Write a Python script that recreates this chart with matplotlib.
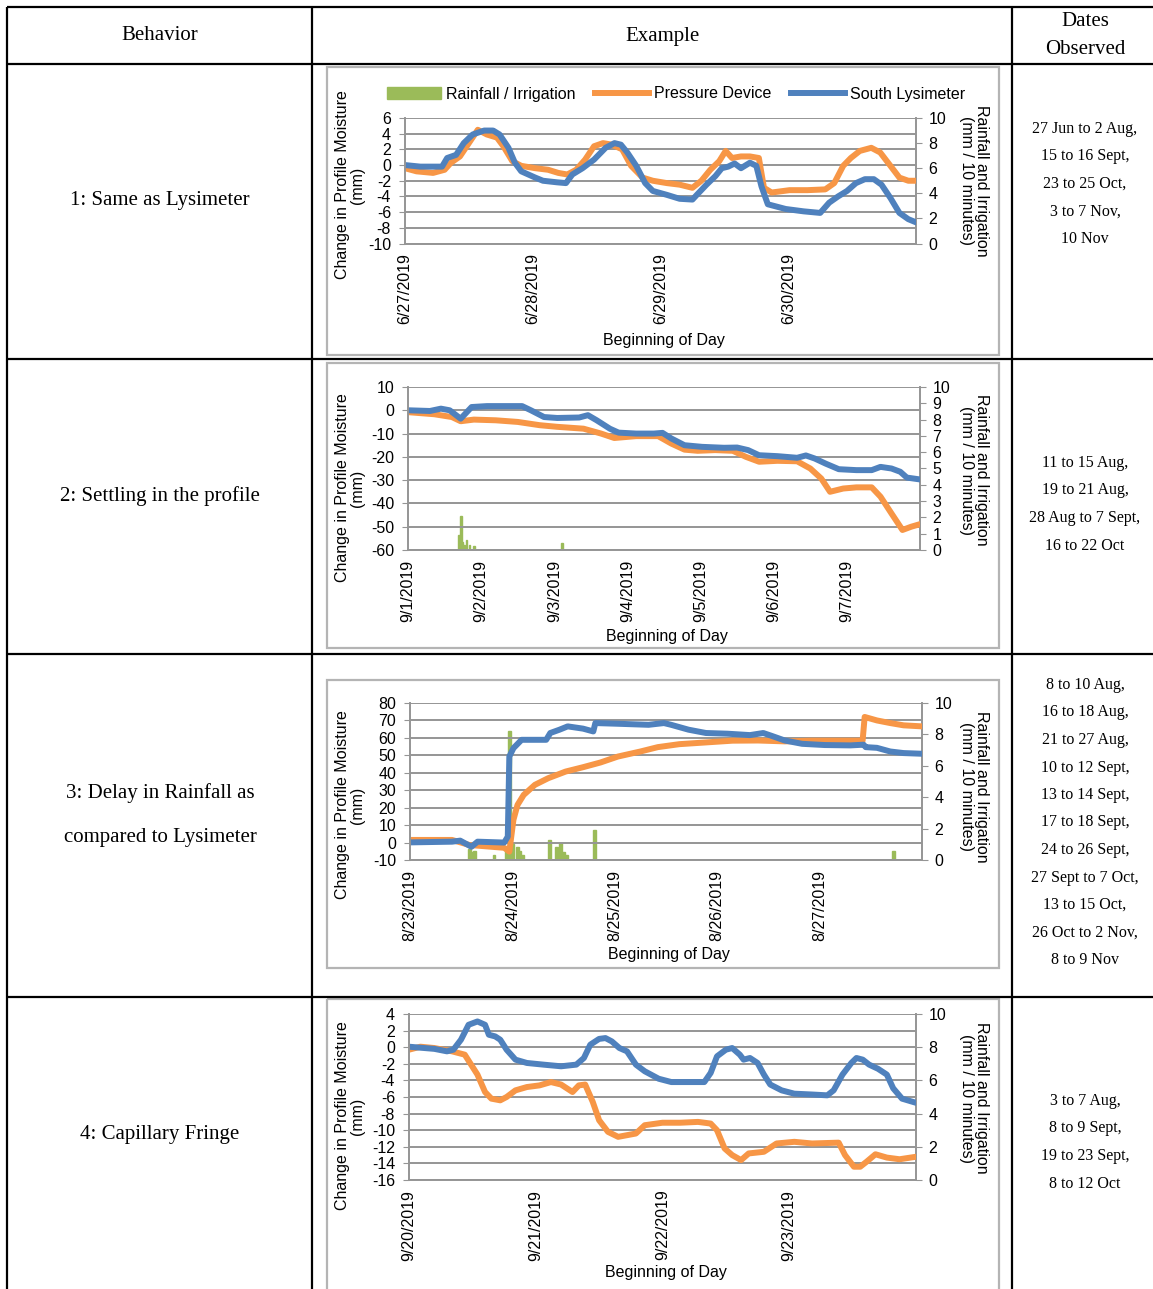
import numpy as np
import matplotlib.pyplot as plt
from matplotlib.patches import Rectangle, Patch
from matplotlib.lines import Line2D

plt.rcParams['font.family'] = ['Liberation Sans', 'DejaVu Sans']
plt.rcParams['axes.unicode_minus'] = False

W, H = 1153, 1289
GREEN = '#9BBB59'
ORANGE = '#F79646'
BLUE = '#4F81BD'
GRID = '#959595'
SERIF = ['Liberation Serif', 'DejaVu Serif']

# ---- table text ----
behaviors = ['1: Same as Lysimeter', '2: Settling in the profile',
             '3: Delay in Rainfall as\n\ncompared to Lysimeter', '4: Capillary Fringe']
dates_observed = [
    ['27 Jun to 2 Aug,', '15 to 16 Sept,', '23 to 25 Oct,', '3 to 7 Nov,', '10 Nov'],
    ['11 to 15 Aug,', '19 to 21 Aug,', '28 Aug to 7 Sept,', '16 to 22 Oct'],
    ['8 to 10 Aug,', '16 to 18 Aug,', '21 to 27 Aug,', '10 to 12 Sept,', '13 to 14 Sept,',
     '17 to 18 Sept,', '24 to 26 Sept,', '27 Sept to 7 Oct,', '13 to 15 Oct,',
     '26 Oct to 2 Nov,', '8 to 9 Nov'],
    ['3 to 7 Aug,', '8 to 9 Sept,', '19 to 23 Sept,', '8 to 12 Oct'],
]

# ---- chart 1: 6/27 - 6/30 ----
c1_dates = ['6/27/2019', '6/28/2019', '6/29/2019', '6/30/2019']
c1_day_pres = [0, 0.09, 0.22, 0.31, 0.36, 0.43, 0.50, 0.57, 0.64, 0.72, 0.77, 0.84, 0.91, 1.02, 1.12,
               1.20, 1.27, 1.34, 1.41, 1.48, 1.55, 1.62, 1.70, 1.77, 1.86, 1.94, 2.05, 2.15, 2.25, 2.32,
               2.39, 2.46, 2.51, 2.56, 2.63, 2.70, 2.77, 2.81, 2.87, 3.01, 3.15, 3.29, 3.36, 3.43, 3.49,
               3.56, 3.65, 3.72, 3.80, 3.87, 3.94, 4.0]
c1_pres = [-0.4, -0.8, -1.0, -0.6, 0.3, 1.1, 2.8, 4.5, 3.9, 3.5, 2.4, 0.5, -0.1, -0.4, -0.6,
           -1.0, -1.2, -0.6, 0.7, 2.4, 2.8, 2.6, 2.0, -0.1, -1.6, -2.0, -2.3, -2.5, -2.9, -2.0,
           -0.6, 0.5, 1.8, 0.9, 1.1, 1.1, 0.9, -2.9, -3.5, -3.2, -3.2, -3.1, -2.3, -0.1, 0.9,
           1.8, 2.2, 1.6, -0.1, -1.6, -2.0, -2.0]
c1_day_lys = [0, 0.12, 0.29, 0.33, 0.40, 0.46, 0.53, 0.62, 0.69, 0.74, 0.81, 0.86, 0.91, 1.02, 1.08,
              1.19, 1.26, 1.31, 1.39, 1.48, 1.57, 1.64, 1.69, 1.74, 1.81, 1.88, 1.94, 2.05, 2.15, 2.25,
              2.29, 2.36, 2.43, 2.48, 2.53, 2.58, 2.63, 2.70, 2.75, 2.79, 2.84, 2.98, 3.12, 3.25, 3.32,
              3.39, 3.46, 3.53, 3.60, 3.67, 3.73, 3.80, 3.87, 3.94, 4.0]
c1_lys = [0, -0.2, -0.2, 0.9, 1.3, 2.8, 3.9, 4.4, 4.4, 3.9, 2.2, 0.3, -0.8, -1.6, -2.0,
          -2.2, -2.3, -1.2, -0.4, 0.7, 2.2, 2.8, 2.6, 1.6, -0.1, -2.3, -3.3, -3.8, -4.3, -4.4,
          -3.7, -2.5, -1.4, -0.4, -0.2, 0.2, -0.4, 0.3, -0.1, -2.7, -5.0, -5.6, -5.9, -6.1, -4.8,
          -4.0, -3.3, -2.3, -1.8, -1.8, -2.5, -4.2, -6.1, -6.9, -7.3]
c1_day_rain = []
c1_rain = []

# ---- chart 2: 9/1 - 9/7 ----
c2_dates = ['9/1/2019', '9/2/2019', '9/3/2019', '9/4/2019', '9/5/2019', '9/6/2019', '9/7/2019']
c2_day_pres = [0, 0.36, 0.60, 0.72, 0.90, 1.20, 1.50, 1.80, 2.04, 2.40, 2.64, 2.82, 3.12, 3.42, 3.60,
               3.78, 3.96, 4.20, 4.44, 4.62, 4.80, 5.05, 5.32, 5.50, 5.65, 5.77, 5.95, 6.13, 6.34, 6.46,
               6.61, 6.76, 6.88, 7.0]
c2_pres = [-0.8, -1.7, -2.9, -4.7, -4.0, -4.3, -5.0, -6.4, -7.1, -7.9, -10.0, -11.9, -11.1, -11.1, -14.3,
           -16.9, -17.4, -17.1, -17.4, -20.0, -22.1, -21.7, -21.9, -25.0, -29.3, -35.0, -33.6, -33.1, -33.1,
           -37.1, -44.3, -51.4, -50.0, -48.9]
c2_day_lys = [0, 0.30, 0.45, 0.57, 0.72, 0.87, 1.08, 1.56, 1.68, 1.86, 2.04, 2.34, 2.46, 2.58, 2.76,
              2.88, 3.12, 3.36, 3.48, 3.60, 3.78, 4.02, 4.32, 4.50, 4.65, 4.80, 5.05, 5.32, 5.44, 5.56,
              5.71, 5.89, 6.13, 6.34, 6.46, 6.61, 6.73, 6.82, 7.0]
c2_lys = [0, -0.3, 0.7, 0, -3.6, 1.4, 1.8, 1.8, 0, -2.9, -3.3, -3.1, -2.1, -4.3, -7.9,
          -9.6, -10, -10, -9.7, -12.1, -15, -15.7, -16.1, -16, -17.1, -19.3, -19.7, -20.4, -19.4, -20.7,
          -22.9, -25.3, -25.7, -25.7, -24.3, -25, -26.4, -28.9, -29.7]
c2_day_rain = [0.70, 0.72, 0.74, 0.77, 0.80, 0.84, 0.90, 2.10]
c2_rain = [0.9, 2.1, 0.5, 0.3, 0.6, 0.3, 0.25, 0.4]

# ---- chart 3: 8/23 - 8/27 ----
c3_dates = ['8/23/2019', '8/24/2019', '8/25/2019', '8/26/2019', '8/27/2019']
c3_day_pres = [0, 0.41, 0.58, 0.92, 0.97, 1.01, 1.05, 1.11, 1.22, 1.35, 1.52, 1.69, 1.86, 2.03, 2.25,
               2.42, 2.63, 2.89, 3.15, 3.40, 3.66, 3.92, 4.42, 4.44, 4.56, 4.69, 4.82, 5.0]
c3_pres = [1.5, 1.5, -1.4, -3.0, -5.2, 13, 21.6, 27.3, 33.1, 36.9, 40.7, 43.2, 45.9, 49.3, 52.2,
           54.7, 56.4, 57.4, 58.4, 58.5, 58.0, 58.4, 58.4, 72, 70, 68.5, 67.2, 66.6]
c3_day_lys = [0, 0.41, 0.49, 0.60, 0.66, 0.92, 0.955, 0.97, 1.01, 1.09, 1.33, 1.37, 1.46, 1.54, 1.69,
              1.79, 1.81, 2.03, 2.33, 2.48, 2.55, 2.72, 2.89, 3.10, 3.32, 3.45, 3.53, 3.66, 3.83, 4.05,
              4.30, 4.43, 4.45, 4.56, 4.69, 4.82, 5.0]
c3_lys = [0.1, 0.5, 1.1, -2.4, 0.5, 0, 3.4, 49.3, 54.1, 58.9, 58.9, 62.8, 64.7, 66.6, 65.3,
          63.7, 68.5, 68.1, 67.5, 68.5, 67.5, 64.7, 62.8, 62.4, 61.6, 62.8, 61.2, 58.5, 56.6, 55.9,
          55.7, 56.1, 54.7, 54.3, 52.2, 51.3, 50.9]
c3_day_rain = [0.58, 0.60, 0.63, 0.82, 0.94, 0.97, 1.00, 1.05, 1.07, 1.10, 1.36, 1.43, 1.47, 1.50,
               1.53, 1.80, 4.72]
c3_rain = [0.7, 0.5, 0.6, 0.3, 0.85, 8.2, 1.0, 0.85, 0.6, 0.3, 1.3, 0.85, 1.1, 0.5, 0.3, 1.9, 0.6]

# ---- chart 4: 9/20 - 9/23 ----
c4_dates = ['9/20/2019', '9/21/2019', '9/22/2019', '9/23/2019']
c4_day_pres = [0, 0.09, 0.20, 0.34, 0.44, 0.49, 0.54, 0.60, 0.65, 0.72, 0.77, 0.84, 0.93, 1.03, 1.12,
               1.20, 1.29, 1.34, 1.39, 1.45, 1.50, 1.57, 1.65, 1.72, 1.79, 1.86, 2.00, 2.14, 2.28, 2.38,
               2.43, 2.49, 2.55, 2.62, 2.68, 2.80, 2.90, 3.04, 3.18, 3.39, 3.44, 3.51, 3.56, 3.61, 3.68,
               3.77, 3.87, 4.0]
c4_pres = [-0.3, 0.06, -0.1, -0.5, -0.9, -2.1, -3.3, -5.4, -6.2, -6.4, -6.0, -5.2, -4.8, -4.6, -4.2,
           -4.5, -5.4, -4.6, -4.5, -6.6, -8.8, -10.2, -10.8, -10.6, -10.4, -9.4, -9.1, -9.1, -9.0, -9.2,
           -10.0, -12.2, -13.0, -13.6, -12.8, -12.6, -11.6, -11.4, -11.6, -11.5, -13.0, -14.4, -14.4,
           -13.8, -12.9, -13.3, -13.5, -13.2]
c4_day_lys = [0, 0.09, 0.20, 0.30, 0.35, 0.41, 0.47, 0.54, 0.60, 0.63, 0.68, 0.72, 0.77, 0.84, 0.93,
              1.06, 1.20, 1.32, 1.38, 1.43, 1.50, 1.55, 1.60, 1.66, 1.72, 1.79, 1.86, 1.97, 2.07, 2.21,
              2.33, 2.38, 2.43, 2.50, 2.55, 2.61, 2.64, 2.69, 2.75, 2.80, 2.85, 2.94, 3.04, 3.18, 3.30,
              3.35, 3.42, 3.49, 3.53, 3.58, 3.63, 3.70, 3.77, 3.82, 3.89, 4.0]
c4_lys = [0.06, -0.06, -0.2, -0.5, -0.3, 0.9, 2.7, 3.1, 2.7, 1.5, 1.3, 0.9, -0.3, -1.5, -1.9,
          -2.1, -2.3, -2.1, -1.3, 0.3, 1.0, 1.1, 0.7, -0.1, -0.5, -2.1, -2.9, -3.8, -4.2, -4.2,
          -4.2, -3.1, -1.1, -0.3, -0.1, -0.9, -1.5, -1.3, -1.9, -3.3, -4.5, -5.2, -5.6, -5.7, -5.8,
          -5.2, -3.3, -1.9, -1.3, -1.5, -2.1, -2.6, -3.3, -4.95, -6.2, -6.7]
c4_day_rain = []
c4_rain = []

fig = plt.figure(figsize=(W / 100, H / 100), dpi=100)
bg = fig.add_axes([0, 0, 1, 1])
bg.set_xlim(0, W)
bg.set_ylim(H, 0)
bg.axis('off')

# table grid
for y in [7, 64, 359, 654, 997]:
    bg.plot([7, W], [y, y], color='black', lw=1.6, solid_capstyle='butt')
for x in [7, 312, 1012]:
    bg.plot([x, x], [7, H], color='black', lw=1.6, solid_capstyle='butt')

bg.text(160, 36, 'Behavior', family=SERIF, fontsize=15, ha='center', va='center')
bg.text(662, 36, 'Example', family=SERIF, fontsize=15, ha='center', va='center')
bg.text(1085, 21, 'Dates', family=SERIF, fontsize=15, ha='center', va='center')
bg.text(1085, 49, 'Observed', family=SERIF, fontsize=15, ha='center', va='center')

row_mid = [201, 496, 815, 1134]
for text, ym in zip(behaviors, row_mid):
    bg.text(160, ym, text, family=SERIF, fontsize=15, ha='center', va='center', linespacing=1.2)

date_start = [129, 463, 685, 1101]
for lines, y0 in zip(dates_observed, date_start):
    for i, s in enumerate(lines):
        bg.text(1085, y0 + i * 27.5, s, family=SERIF, fontsize=11.5, ha='center', va='center')


def chart(box, frame, labels_y, dates, ylim, ystep, rstep,
          d_pres, pres, d_lys, lys, d_rain, rain):
    l, t, r, b = box
    bg.add_patch(Rectangle((frame[0], frame[1]), frame[2] - frame[0], frame[3] - frame[1],
                           fill=False, ec='#b4b4b4', lw=1.6))
    ax = fig.add_axes([l / W, 1 - b / H, (r - l) / W, (b - t) / H])
    ax2 = ax.twinx()
    ax.set_zorder(ax2.get_zorder() + 1)
    ax.patch.set_visible(False)

    if len(rain):
        ax2.bar(d_rain, rain, width=0.025, color=GREEN, edgecolor=GREEN, lw=1.0)
    ax.plot(d_pres, pres, color=ORANGE, lw=4.3, solid_joinstyle='round', solid_capstyle='round')
    ax.plot(d_lys, lys, color=BLUE, lw=4.3, solid_joinstyle='round', solid_capstyle='round')

    n = len(dates)
    ax.set_xlim(0, n)
    ax.set_xticks(np.arange(n))
    ax.set_xticklabels(dates, rotation=90, fontsize=11.5)
    ax.tick_params(axis='x', length=0, pad=7)
    ax.set_ylim(*ylim)
    ax.set_yticks(np.arange(ylim[0], ylim[1] + 0.1, ystep))
    ax.tick_params(axis='y', labelsize=11.5, length=4, color=GRID, pad=6)
    ax.grid(axis='y', color=GRID, lw=1.4)
    ax2.set_ylim(0, 10)
    ax2.set_yticks(np.arange(0, 10.1, rstep))
    ax2.tick_params(axis='y', labelsize=11.5, length=4, color=GRID, pad=5)
    for a in (ax, ax2):
        for side in ('top', 'left', 'right', 'bottom'):
            a.spines[side].set_visible(False)
    ax.spines['left'].set_visible(True)
    ax.spines['bottom'].set_visible(True)
    ax2.spines['right'].set_visible(True)
    for sp in (ax.spines['left'], ax.spines['bottom'], ax2.spines['right']):
        sp.set_color(GRID)
        sp.set_linewidth(1.4)

    ly, ry, xy = labels_y
    bg.text(350, ly, 'Change in Profile Moisture\n(mm)', rotation=90, fontsize=11.5,
            ha='center', va='center', linespacing=1.0)
    bg.text(974, ry, 'Rainfall and Irrigation\n(mm / 10 minutes)', rotation=-90, fontsize=11.5,
            ha='center', va='center', linespacing=1.0)
    bg.text((l + r) / 2 + 3, xy, 'Beginning of Day', fontsize=11.5, ha='center', va='center')
    return ax


chart((405, 118, 916, 243.5), (327, 67, 999, 355), (185, 181, 341), c1_dates, (-10, 6), 2, 2,
      c1_day_pres, c1_pres, c1_day_lys, c1_lys, c1_day_rain, c1_rain)
chart((408, 387, 920, 550), (327, 363, 999, 648), (488, 470, 636), c2_dates, (-60, 10), 10, 1,
      c2_day_pres, c2_pres, c2_day_lys, c2_lys, c2_day_rain, c2_rain)
chart((410, 703, 922, 860), (327, 680, 999, 968), (805, 787, 955), c3_dates, (-10, 80), 10, 2,
      c3_day_pres, c3_pres, c3_day_lys, c3_lys, c3_day_rain, c3_rain)
chart((409, 1014, 916, 1180), (327, 999, 999, 1300), (1116, 1098, 1273), c4_dates, (-16, 4), 2, 2,
      c4_day_pres, c4_pres, c4_day_lys, c4_lys, c4_day_rain, c4_rain)

handles = [Patch(facecolor=GREEN, edgecolor=GREEN),
           Line2D([], [], color=ORANGE, lw=4.3),
           Line2D([], [], color=BLUE, lw=4.3)]
fig.legend(handles, ['Rainfall / Irrigation', 'Pressure Device', 'South Lysimeter'],
           loc='center', bbox_to_anchor=(676 / W, 1 - 94 / H), ncol=3, frameon=False,
           fontsize=11.5, handlelength=3.4, handleheight=0.7, handletextpad=0.3, columnspacing=1.2)

fig.savefig('out.png', dpi=100)
